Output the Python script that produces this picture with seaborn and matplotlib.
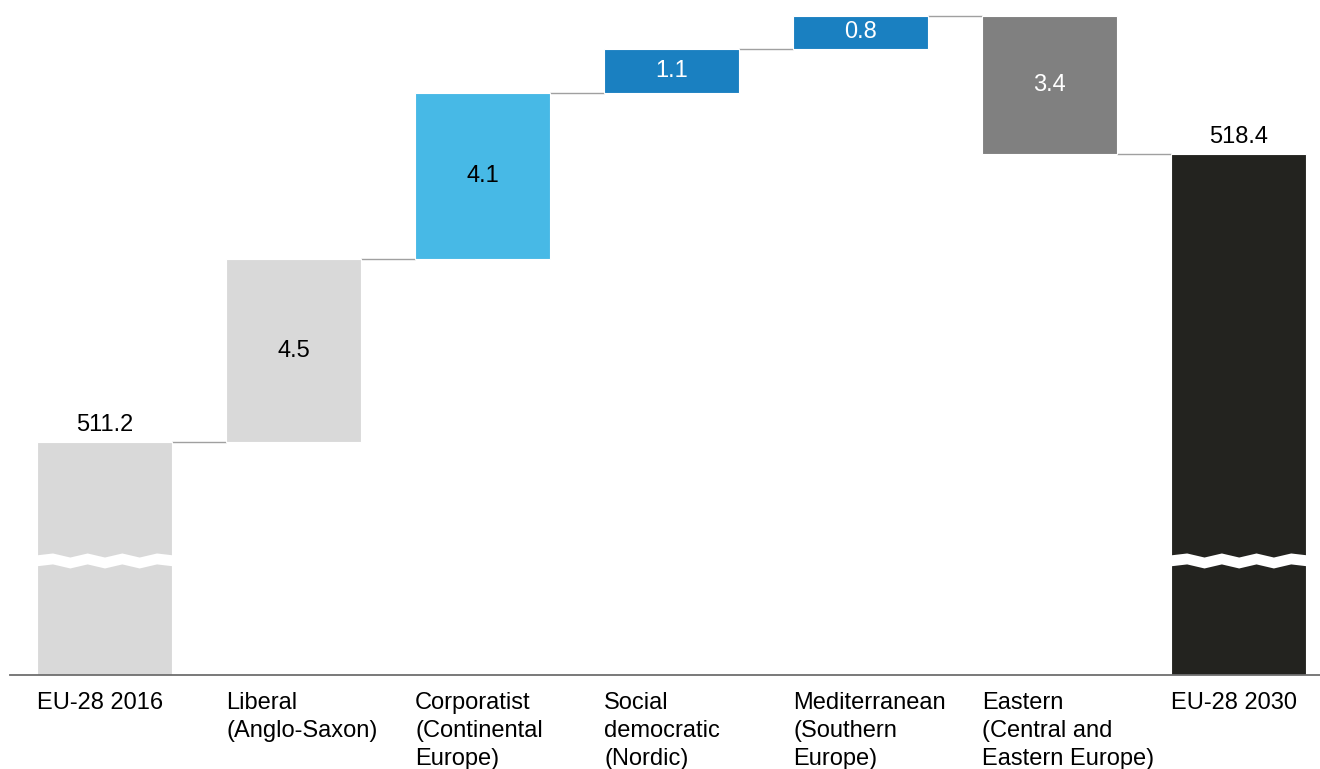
import numpy as np
import matplotlib.pyplot as plt
import seaborn as sns

categories = ["EU-28 2016", "Liberal\n(Anglo-Saxon)", "Corporatist\n(Continental\nEurope)",
              "Social\ndemocratic\n(Nordic)", "Mediterranean\n(Southern\nEurope)",
              "Eastern\n(Central and\nEastern Europe)", "EU-28 2030"]
start_total = 511.2
changes = [4.5, 4.1, 1.1, 0.8, -3.4]
end_total = 518.4
bar_colors = ["#D9D9D9", "#D9D9D9", "#47B9E6", "#1A80C1", "#1A80C1", "#808080", "#23231F"]
label_colors = ["black", "black", "black", "white", "white", "white", "black"]

sns.set_theme(style="white")
plt.rcParams['font.family'] = ['Liberation Sans', 'DejaVu Sans']
plt.rcParams['text.color'] = 'black'

fig = plt.figure(figsize=(13.2, 7.69), dpi=100)
ax = fig.add_axes([10 / 1320, 94 / 769, 1310 / 1320, 675 / 769])

y_floor = 505.45
y_top = 522.1
w = 0.714

# bottoms / tops of each bar
cum = start_total
bottoms = [y_floor]
tops = [start_total]
for c in changes:
    bottoms.append(min(cum, cum + c))
    tops.append(max(cum, cum + c))
    cum += c
bottoms.append(y_floor)
tops.append(cum)
heights = np.array(tops) - np.array(bottoms)
xs = np.arange(len(categories))

ax.bar(xs, heights, bottom=bottoms, width=w, color=bar_colors,
       edgecolor="white", linewidth=0.8, zorder=2)

# connectors
levels = [start_total]
run = start_total
for c in changes:
    run += c
    levels.append(run)
for i, lv in enumerate(levels):
    ax.plot([i + w / 2, i + 1 - w / 2], [lv, lv], color="#A0A0A0", lw=1, zorder=1)

# axis break marks on the two total bars
for i in [0, len(categories) - 1]:
    zx = np.linspace(i - w / 2 - 0.01, i + w / 2 + 0.01, 9)
    off = np.array([0, 1, -1, 1, -1, 1, -1, 1, 0]) * 0.05
    lo = y_floor + 2.69 + off
    hi = y_floor + 2.96 + off
    ax.fill_between(zx, lo, hi, color="white", lw=0, zorder=3)

# value labels
ax.text(0, start_total + 0.15, f"{start_total:.1f}", ha="center", va="bottom", fontsize=17)
ax.text(xs[-1], cum + 0.15, f"{end_total:.1f}", ha="center", va="bottom", fontsize=17)
for i, c in enumerate(changes, start=1):
    ax.text(i, bottoms[i] + heights[i] / 2, f"{abs(c):.1f}", ha="center", va="center",
            fontsize=17, color=label_colors[i])

# category labels, left-aligned at the bar edge
for i, lab in enumerate(categories):
    ax.annotate(lab, xy=(i - w / 2, 0), xycoords=("data", "axes fraction"),
                xytext=(0, -12), textcoords="offset points", ha="left", va="top",
                fontsize=17, linespacing=1.37, annotation_clip=False)

ax.set_xlim(-0.5, 6.43)
ax.set_ylim(y_floor, y_top)
ax.set_xticks([])
ax.set_yticks([])
for s in ["top", "right", "left"]:
    ax.spines[s].set_visible(False)
ax.spines["bottom"].set_color("#6E6E6E")
ax.spines["bottom"].set_linewidth(1.3)

fig.savefig("out.png", dpi=100)
